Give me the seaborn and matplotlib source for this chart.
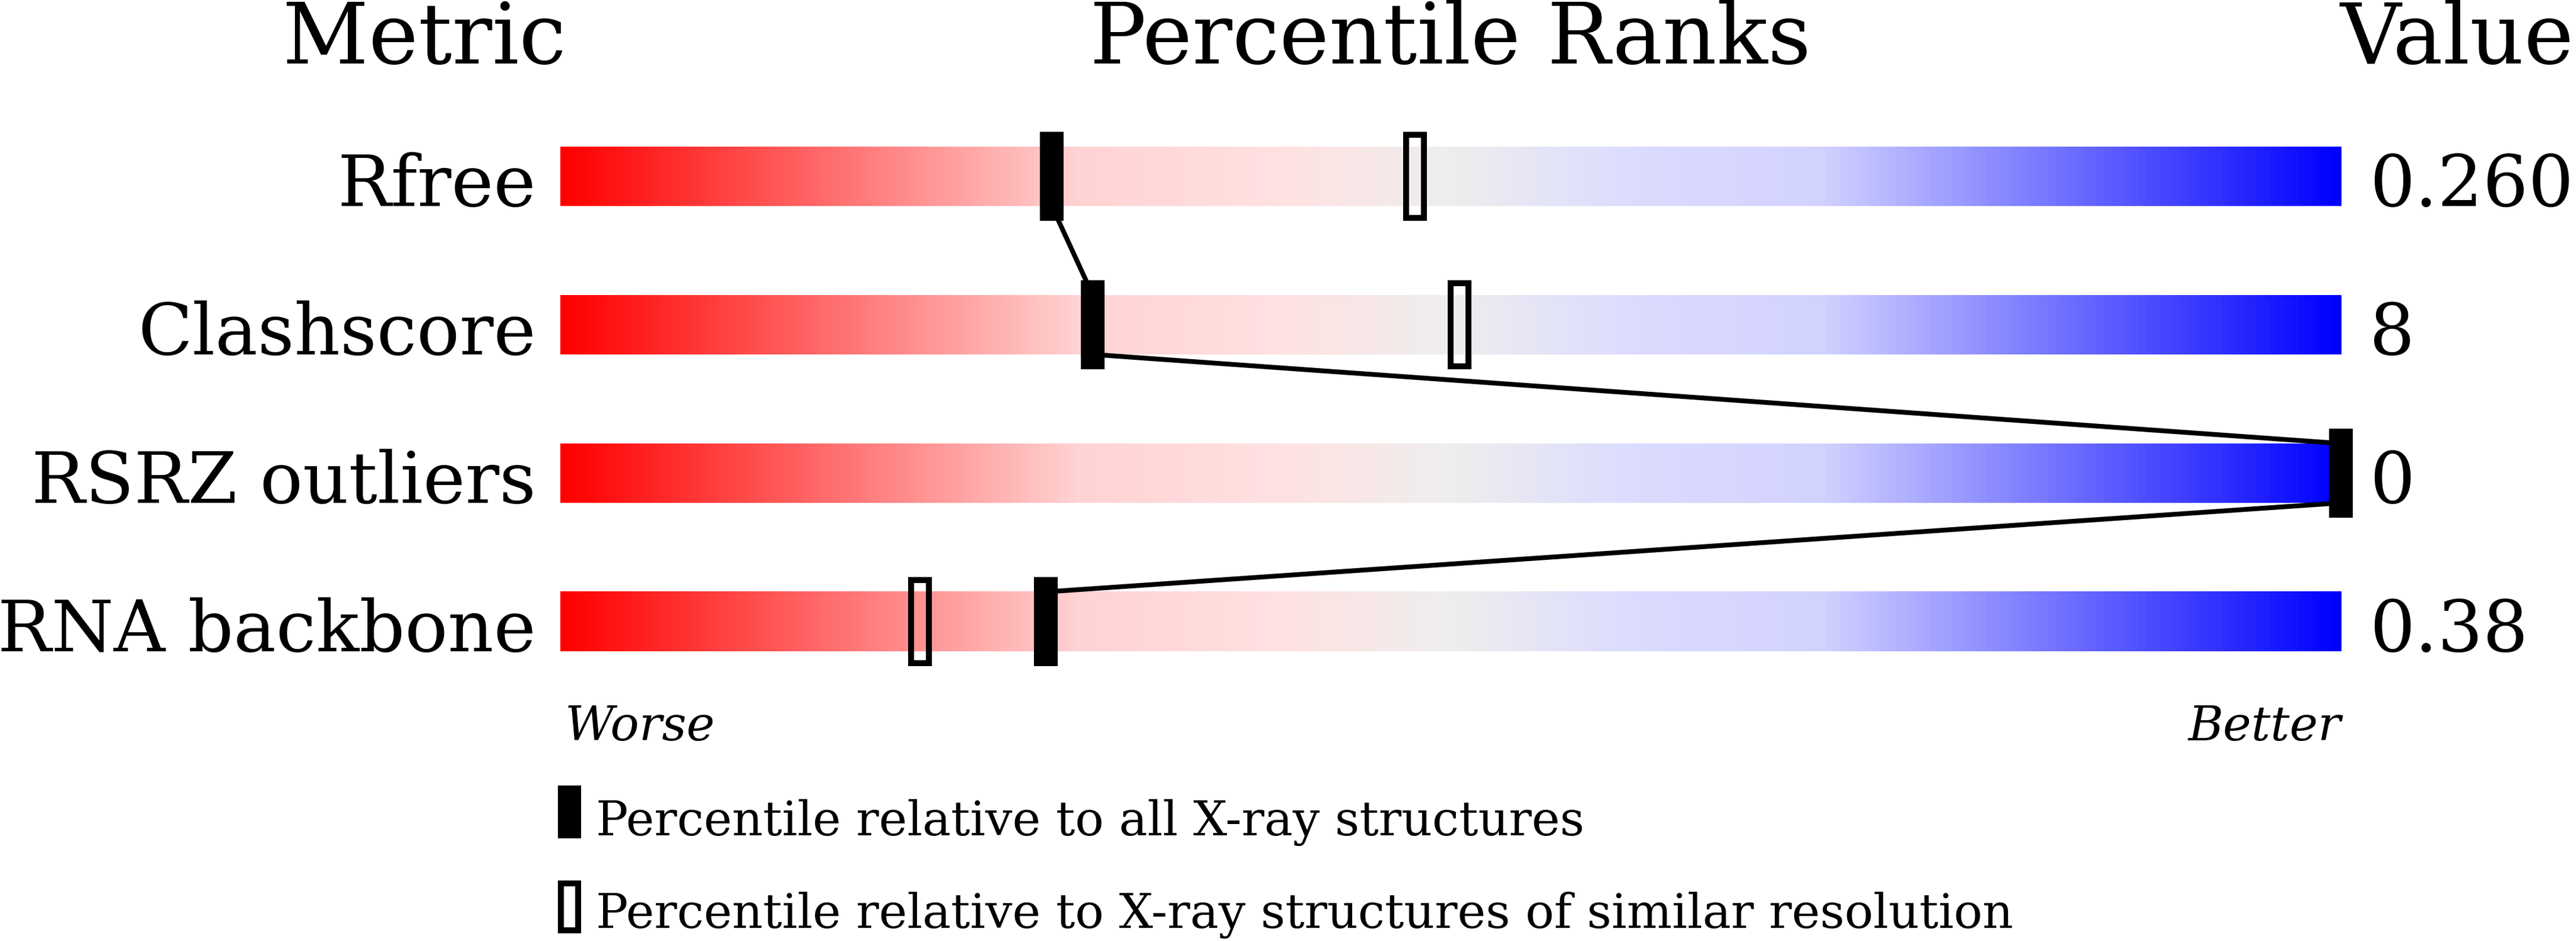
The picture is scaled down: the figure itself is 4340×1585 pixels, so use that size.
import numpy as np
import matplotlib
matplotlib.use("Agg")
import matplotlib.pyplot as plt
import seaborn as sns
import pandas as pd
from matplotlib.colors import LinearSegmentedColormap

# Data
metrics = ["Rfree", "Clashscore", "RSRZ outliers", "RNA backbone"]
values = ["0.260", "8", "0", "0.38"]
pct_all = [27.6, 29.9, 100.0, 27.25]        # black markers
pct_similar = [48.0, 50.5, 100.0, 20.2]     # hollow markers
legend_labels = ["Percentile relative to all X-ray structures",
                 "Percentile relative to X-ray structures of similar resolution"]

sns.set_theme(style="white")
plt.rcParams['font.family'] = ['DejaVu Serif', 'DejaVu Sans']
plt.rcParams['text.color'] = 'black'

fig = plt.figure(figsize=(43.4, 15.85), dpi=100)
ax = fig.add_axes([0, 0, 1, 1])
# 1 percentile unit = 30 px, bars from px 944 to 3944; rows 250 px apart
ax.set_xlim(-944 / 30, (4340 - 944) / 30)
ax.set_ylim((1585 - 297) / 250, -297 / 250)
ax.axis("off")

cmap = LinearSegmentedColormap.from_list("pr", [
    (0.0, "#ff0000"), (0.29, "#ffd3d3"), (0.41, "#ffe2e2"),
    (0.5, "#eeeeee"), (0.6, "#dcdcff"), (0.71, "#d2d2ff"), (1.0, "#0000ff")])
grad = np.linspace(0, 1, 600).reshape(1, -1)

bar_h = 0.4
mark_h = 0.6
mark_w = 40 / 30

for i, m in enumerate(metrics):
    ax.imshow(grad, cmap=cmap, aspect="auto", interpolation="bilinear",
              extent=(0, 100, i + bar_h / 2, i - bar_h / 2), zorder=1)
    ax.text(-1.37, i + bar_h / 2, m, ha="right", va="baseline", fontsize=86.5, color="black")
    ax.text(101.6, i + bar_h / 2, values[i], ha="left", va="baseline", fontsize=86.5, color="black")

# connecting line between black markers
line_x, line_y = [], []
for i, p in enumerate(pct_all):
    if i > 0:
        line_x.append(p); line_y.append(i - bar_h / 2)
    if i < len(pct_all) - 1:
        line_x.append(p); line_y.append(i + bar_h / 2)
df_line = pd.DataFrame({"x": line_x, "y": line_y})
sns.lineplot(data=df_line, x="x", y="y", sort=False, estimator=None,
             color="black", linewidth=5.8, ax=ax, zorder=2)

rows = np.arange(len(metrics))
lw_px = 10
ax.bar(pct_similar, height=mark_h - lw_px / 250, bottom=rows - (mark_h - lw_px / 250) / 2,
       width=mark_w - lw_px / 30, fill=False, edgecolor="black",
       linewidth=lw_px * 0.72, zorder=3)
ax.bar(pct_all, height=mark_h, bottom=rows - mark_h / 2, width=mark_w,
       color="black", linewidth=0, zorder=4)

# headers
ax.text(-7.63, -0.76, "Metric", ha="center", va="baseline", fontsize=102, color="black")
ax.text(50, -0.76, "Percentile Ranks", ha="center", va="baseline", fontsize=102, color="black")
ax.text(99.93, -0.76, "Value", ha="left", va="baseline", fontsize=102, color="black")

ax.text(0.27, 3.8, "Worse", ha="left", va="baseline", fontsize=58, style="italic", color="black")
ax.text(100, 3.8, "Better", ha="right", va="baseline", fontsize=58, style="italic", color="black")

# legend
ax.bar([0.5], height=0.356, bottom=4.104, width=1.3, color="black", linewidth=0)
ax.bar([0.5], height=0.356 - lw_px / 250, bottom=4.744 + lw_px / 500,
       width=1.3 - lw_px / 30, fill=False, edgecolor="black", linewidth=lw_px * 0.72)
ax.text(2.0, 4.44, legend_labels[0], ha="left", va="baseline", fontsize=58, color="black")
ax.text(2.0, 5.064, legend_labels[1], ha="left", va="baseline", fontsize=58, color="black")

fig.savefig("out.png", dpi=100, facecolor="white")
